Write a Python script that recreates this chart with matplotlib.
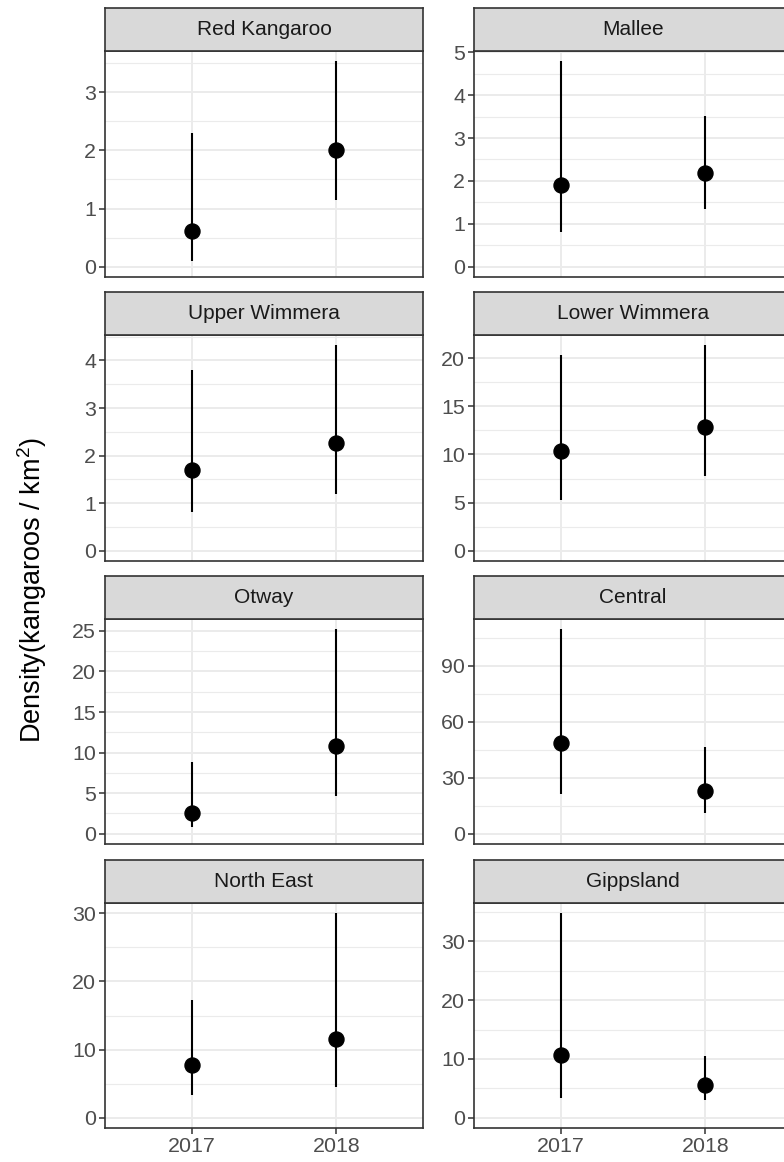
import matplotlib
matplotlib.use("Agg")
import matplotlib.pyplot as plt
from matplotlib.ticker import MultipleLocator
import numpy as np

plt.rcParams['font.family'] = ['Liberation Sans', 'DejaVu Sans']
plt.rcParams['mathtext.fontset'] = 'custom'
plt.rcParams['mathtext.rm'] = 'Liberation Sans'
plt.rcParams['mathtext.it'] = 'Liberation Sans:italic'

# ---- data ----
regions = ["Red Kangaroo", "Mallee", "Upper Wimmera", "Lower Wimmera",
           "Otway", "Central", "North East", "Gippsland"]
years = ["2017", "2018"]
density_2017 = [0.61, 1.90, 1.70, 10.38, 2.54, 48.5, 7.67, 10.64]
lower_2017 = [0.10, 0.81, 0.81, 5.29, 0.82, 21.4, 3.37, 3.28]
upper_2017 = [2.30, 4.79, 3.79, 20.35, 8.85, 109.6, 17.3, 34.8]
density_2018 = [2.00, 2.18, 2.27, 12.87, 10.86, 22.8, 11.58, 5.66]
lower_2018 = [1.14, 1.34, 1.19, 7.79, 4.71, 11.0, 4.54, 3.06]
upper_2018 = [3.53, 3.52, 4.32, 21.35, 25.2, 46.3, 30.0, 10.58]
tick_steps = [1, 1, 1, 5, 5, 30, 10, 10]

W, H = 784, 1162
fig = plt.figure(figsize=(W / 100, H / 100), dpi=100)

col_x = [105, 474]
panel_w = 318
row_panel = [(51, 277), (335, 561), (619, 844), (903, 1128)]
strip_h = 43

dark = "#333333"
grid_c = "#EBEBEB"

for i, reg in enumerate(regions):
    r, c = divmod(i, 2)
    top, bot = row_panel[r]
    x0 = col_x[c]
    ax = fig.add_axes([x0 / W, 1 - bot / H, panel_w / W, (bot - top) / H])
    sax = fig.add_axes([x0 / W, 1 - top / H, panel_w / W, strip_h / H])

    xs = np.arange(1, len(years) + 1)
    means = [density_2017[i], density_2018[i]]
    lows = [lower_2017[i], lower_2018[i]]
    ups = [upper_2017[i], upper_2018[i]]
    for xx, m, lo, hi in zip(xs, means, lows, ups):
        ax.plot([xx, xx], [lo, hi], color="black", lw=1.5, zorder=3, solid_capstyle='butt')
    ax.plot(xs, means, 'o', color="black", ms=10.8, zorder=4)

    lo_l = min(0, min(lows))
    hi_l = max(ups)
    rng = hi_l - lo_l
    ax.set_ylim(lo_l - 0.05 * rng, hi_l + 0.05 * rng)
    ax.set_xlim(0.4, 2.6)
    step = tick_steps[i]
    ax.yaxis.set_major_locator(MultipleLocator(step))
    ax.yaxis.set_minor_locator(MultipleLocator(step / 2))
    ax.set_xticks(xs)
    ax.grid(True, which='major', color=grid_c, lw=1.4, zorder=0)
    ax.grid(True, which='minor', axis='y', color=grid_c, lw=0.8, zorder=0)
    ax.set_axisbelow(True)
    ax.tick_params(axis='y', which='major', length=4, width=1.1, color=dark,
                   labelsize=15.4, labelcolor="#4D4D4D", pad=2.5)
    ax.tick_params(axis='y', which='minor', length=0)
    if r == 3:
        ax.set_xticklabels(years)
        ax.tick_params(axis='x', length=4, width=1.1, color=dark,
                       labelsize=15.4, labelcolor="#4D4D4D", pad=2.5)
    else:
        ax.set_xticklabels([])
        ax.tick_params(axis='x', length=0)
    for sp in ax.spines.values():
        sp.set_color(dark)
        sp.set_linewidth(1.2)

    sax.set_facecolor("#D9D9D9")
    sax.set_xticks([])
    sax.set_yticks([])
    for sp in sax.spines.values():
        sp.set_color(dark)
        sp.set_linewidth(1.2)
    sax.text(0.5, 0.5, reg, ha='center', va='center', fontsize=15,
             color="#1A1A1A", transform=sax.transAxes)

fig.text(32 / W, 1 - 590 / H, "Density(kangaroos / km$^2$)", rotation=90,
         ha='center', va='center', fontsize=19.5, color="black")

fig.savefig("out.png", dpi=100, facecolor="white")
